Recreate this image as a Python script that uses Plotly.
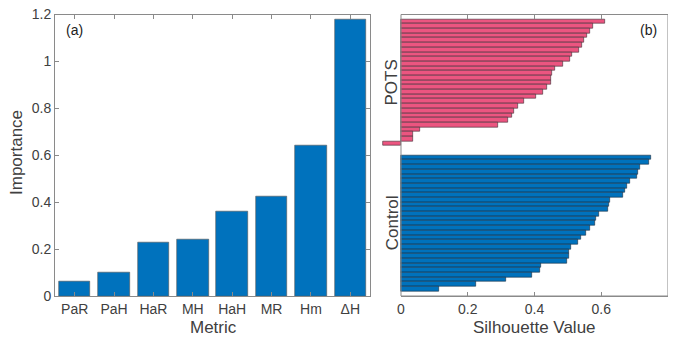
import plotly.graph_objects as go

# ---- data ----
metrics = ["PaR", "PaH", "HaR", "MH", "HaH", "MR", "Hm", "ΔH"]
importance = [0.062, 0.102, 0.226, 0.240, 0.359, 0.425, 0.641, 1.179]

pots_sil = [0.610, 0.574, 0.565, 0.558, 0.547, 0.541, 0.532, 0.511, 0.507, 0.484,
            0.461, 0.451, 0.450, 0.448, 0.436, 0.424, 0.403, 0.367, 0.349, 0.339,
            0.331, 0.322, 0.292, 0.057, 0.036, 0.036, -0.054]
control_sil = [0.748, 0.743, 0.716, 0.711, 0.708, 0.686, 0.678, 0.671, 0.665, 0.625,
               0.622, 0.619, 0.593, 0.585, 0.580, 0.567, 0.555, 0.539, 0.531, 0.508,
               0.503, 0.502, 0.497, 0.418, 0.415, 0.393, 0.315, 0.224, 0.113]
cluster_names = ["POTS", "Control"]
imp_ticks = [0, 0.2, 0.4, 0.6, 0.8, 1.0, 1.2]
imp_ticklabels = ["0", "0.2", "0.4", "0.6", "0.8", "1", "1.2"]
sil_ticks = [0, 0.2, 0.4, 0.6, 0.8]
sil_ticklabels = ["0", "0.2", "0.4", "0.6", "0.8"]
sil_range = [-0.06, 0.8]

GAP = 2
pots_pos = list(range(1, len(pots_sil) + 1))
ctrl_start = len(pots_sil) + 1 + GAP
control_pos = list(range(ctrl_start, ctrl_start + len(control_sil)))
y_max = control_pos[-1] + 1.5

BLUE = "#0072BD"
PINK = "#EC5580"
FONT = "Liberation Sans, Arial, sans-serif"
TXT = "#404040"
AX = "#8a8a8a"

fig = go.Figure()
fig.add_trace(go.Bar(x=metrics, y=importance, width=0.8, marker=dict(color=BLUE, line=dict(color="#555", width=0.6)),
                     xaxis="x", yaxis="y", showlegend=False))
fig.add_trace(go.Bar(x=pots_sil, y=pots_pos, orientation="h", width=1.0,
                     marker=dict(color=PINK, line=dict(color="#3a2a30", width=0.6)),
                     xaxis="x2", yaxis="y2", showlegend=False))
fig.add_trace(go.Bar(x=control_sil, y=control_pos, orientation="h", width=1.0,
                     marker=dict(color=BLUE, line=dict(color="#1a2a3a", width=0.6)),
                     xaxis="x2", yaxis="y2", showlegend=False))
# empty trace to activate the framing axis of the right panel
fig.add_trace(go.Scatter(x=[], y=[], xaxis="x3", yaxis="y2", showlegend=False, hoverinfo="skip"))

ydom = [43 / 339, 324.5 / 339]
common = dict(showline=True, linecolor=AX, linewidth=1, mirror="ticks", ticks="inside",
              ticklen=4, tickcolor=AX, showgrid=False, zeroline=False,
              tickfont=dict(family=FONT, size=14, color=TXT), automargin=False)

# right panel: 0 at 401 px, 0.8 at 668 px
px_per_unit = (668 - 401) / (sil_range[1] - 0)
x2_left = 401 + sil_range[0] * px_per_unit

fig.update_layout(
    width=676, height=339,
    margin=dict(l=0, r=0, t=0, b=0),
    paper_bgcolor="white", plot_bgcolor="rgba(0,0,0,0)",
    bargap=0,
    xaxis=dict(domain=[55 / 676, 370 / 676], anchor="y", range=[-0.5, 7.5], **common),
    yaxis=dict(domain=ydom, anchor="x", range=[0, 1.2], tickvals=imp_ticks,
               ticktext=imp_ticklabels, **common),
    xaxis2=dict(domain=[x2_left / 676, 668 / 676], anchor="y2", range=sil_range,
                showticklabels=False, ticks="", showline=False, showgrid=False, zeroline=False),
    xaxis3=dict(domain=[401 / 676, 668 / 676], anchor="y2", range=[0, sil_range[1]],
                tickvals=sil_ticks, ticktext=sil_ticklabels, **common),
    yaxis2=dict(domain=ydom, anchor="x2", range=[y_max, -0.5], tickvals=[],
                showticklabels=False, showline=False, showgrid=False, zeroline=False),
    font=dict(family=FONT, color=TXT),
    shapes=[dict(type="rect", xref="x2", yref="y2 domain", x0=0, x1=sil_range[1], y0=0, y1=1,
                 line=dict(color=AX, width=1), layer="above")],
)

ann = [
    dict(text="(a)", x=64 / 676, y=1 - 30 / 339, xref="paper", yref="paper", xanchor="left",
         yanchor="middle", showarrow=False, font=dict(size=14, color="#222")),
    dict(text="(b)", x=659 / 676, y=1 - 30 / 339, xref="paper", yref="paper", xanchor="right",
         yanchor="middle", showarrow=False, font=dict(size=14, color="#222")),
    dict(text="Importance", x=16 / 676, y=1 - 153 / 339, xref="paper", yref="paper",
         xanchor="center", yanchor="middle",
         textangle=-90, showarrow=False, font=dict(size=17, color=TXT)),
    dict(text="Metric", x=213 / 676, y=1 - 327 / 339, xref="paper", yref="paper",
         xanchor="center", yanchor="middle",
         showarrow=False, font=dict(size=17, color=TXT)),
    dict(text="Silhouette Value", x=534 / 676, y=1 - 327 / 339, xref="paper", yref="paper",
         xanchor="center", yanchor="middle",
         showarrow=False, font=dict(size=17, color=TXT)),
]
centers = [(pots_pos[0] + pots_pos[-1]) / 2, (control_pos[0] + control_pos[-1]) / 2]
for name, c in zip(cluster_names, centers):
    ann.append(dict(text=name, x=392 / 676, xref="paper", y=c, yref="y2", textangle=-90,
                    xanchor="center", yanchor="middle",
                    showarrow=False, font=dict(size=17, color=TXT)))
fig.update_layout(annotations=ann)

fig.write_html("out.html", config={"displayModeBar": False},
               post_script="document.body.style.margin='0';document.body.style.overflow='hidden';")
